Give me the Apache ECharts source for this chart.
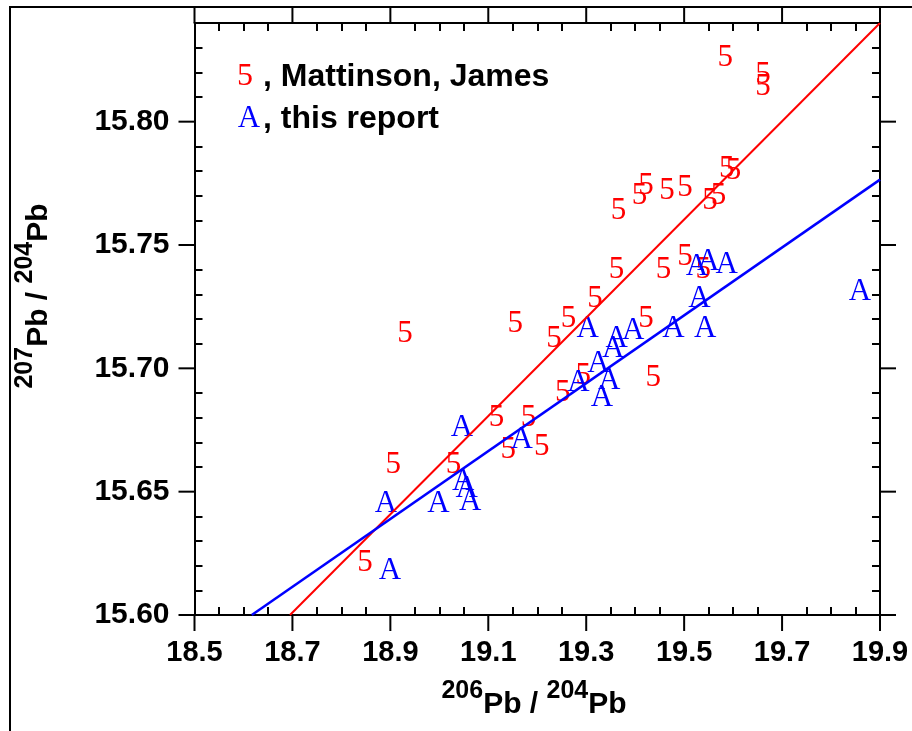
<!DOCTYPE html>
<html>
<head>
<meta charset="utf-8">
<script src="https://cdn.jsdelivr.net/npm/echarts@6/dist/echarts.min.js"></script>
<style>
  html, body { margin: 0; padding: 0; background: #fff; }
  #chart { width: 912px; height: 731px; }
</style>
</head>
<body>
<div id="chart"></div>
<script>
// 206Pb/204Pb vs 207Pb/204Pb — two sample sets and their regression lines

// Mattinson, James (plotted as "5")
const mattinsonX = [19.584, 19.661, 19.661, 19.366, 19.409, 19.422, 19.465, 19.502, 19.553, 19.570,
                    19.587, 19.601, 19.362, 19.458, 19.502, 19.539, 19.318, 19.264, 19.234, 19.422,
                    19.294, 19.252, 19.437, 18.930, 19.155, 19.117, 19.182, 19.141, 19.209, 18.906,
                    19.029, 18.848];
const mattinsonY = [15.826, 15.819, 15.814, 15.764, 15.770, 15.774, 15.772, 15.773, 15.768, 15.770,
                    15.781, 15.780, 15.740, 15.740, 15.745, 15.740, 15.728, 15.720, 15.712, 15.720,
                    15.697, 15.690, 15.696, 15.714, 15.718, 15.680, 15.680, 15.667, 15.668, 15.661,
                    15.661, 15.621];

// This report (plotted as "A")
const reportX = [19.526, 19.549, 19.587, 19.531, 19.859, 19.303, 19.362, 19.355, 19.396, 19.478,
                 19.543, 19.325, 19.284, 19.347, 19.332, 19.046, 19.168, 19.049, 19.056, 19.063,
                 18.891, 18.998, 18.899];
const reportY = [15.741, 15.743, 15.742, 15.728, 15.731, 15.716, 15.712, 15.708, 15.715, 15.716,
                 15.716, 15.702, 15.694, 15.695, 15.688, 15.676, 15.671, 15.654, 15.651, 15.646,
                 15.645, 15.645, 15.618];

// Regression lines (end points)
const mattinsonFitX = [18.695, 19.90];
const mattinsonFitY = [15.600, 15.840];
const reportFitX = [18.617, 19.90];
const reportFitY = [15.600, 15.7765];

// Axis ranges and tick labels
const xMin = 18.5, xMax = 19.9;
const yMin = 15.60, yMax = 15.84;
const xTickLabels = ['18.5', '18.7', '18.9', '19.1', '19.3', '19.5', '19.7', '19.9'];
const yTickLabels = ['15.60', '15.65', '15.70', '15.75', '15.80'];

const xMajor = xTickLabels.map(Number);
const yMajor = yTickLabels.map(Number);
const xMinor = [];
for (let i = 1; i < 28; i++) if (i % 4 !== 0) xMinor.push(+(xMin + i * 0.05).toFixed(2));
const yMinor = [];
for (let i = 1; i < 24; i++) if (i % 5 !== 0) yMinor.push(+(yMin + i * 0.01).toFixed(2));

const zip = (xs, ys) => xs.map((x, i) => [x, ys[i]]);

const SANS = '"Liberation Sans", Arial, sans-serif';
const SERIF = '"Liberation Serif", "Times New Roman", serif';
const BLACK = '#000';
const RED = '#ff0000';
const BLUE = '#0000ff';
const MAJOR_TICK = 16;

// Axis with frame line, labels and the short inward minor ticks
function frameAxis(pos, min, max, minorTicks, labelTicks, digits, fontSize, margin) {
  return {
    type: 'value', position: pos, min: min, max: max,
    axisLine: { show: true, onZero: false, lineStyle: { color: BLACK, width: 2 } },
    axisTick: { show: true, inside: true, length: 8, customValues: minorTicks,
                lineStyle: { color: BLACK, width: 2 } },
    axisLabel: labelTicks ? {
      show: true, customValues: labelTicks, margin: margin,
      formatter: v => Number(v).toFixed(digits),
      color: BLACK, fontFamily: SANS, fontWeight: 'bold', fontSize: fontSize
    } : { show: false },
    splitLine: { show: false }
  };
}

// Long outward ticks at the labelled values, placed through the axis scales
function majorTickSeries(points, dx, dy) {
  return {
    type: 'custom', xAxisIndex: 0, yAxisIndex: 0, z: 6, clip: false, silent: true,
    data: points,
    renderItem: function (params, api) {
      const p = api.coord([api.value(0), api.value(1)]);
      return {
        type: 'line',
        shape: { x1: p[0], y1: p[1], x2: p[0] + dx * MAJOR_TICK, y2: p[1] + dy * MAJOR_TICK },
        style: { stroke: BLACK, lineWidth: 2 }
      };
    }
  };
}

function glyphSeries(name, xs, ys, glyph, color) {
  return {
    name: name, type: 'custom', xAxisIndex: 0, yAxisIndex: 0, z: 3,
    data: zip(xs, ys),
    renderItem: function (params, api) {
      const p = api.coord([api.value(0), api.value(1)]);
      return {
        type: 'text', x: p[0], y: p[1],
        style: { text: glyph, fill: color, font: '31px ' + SERIF,
                 align: 'center', verticalAlign: 'middle' }
      };
    }
  };
}

function fitSeries(name, xs, ys, color, width) {
  return {
    name: name, type: 'line', xAxisIndex: 0, yAxisIndex: 0, z: 5,
    data: zip(xs, ys), showSymbol: false, symbol: 'none',
    lineStyle: { color: color, width: width }
  };
}

const nameRich = {
  s: { font: 'bold 25px ' + SANS, fill: BLACK, verticalAlign: 'top' },
  m: { font: 'bold 30px ' + SANS, fill: BLACK, verticalAlign: 'bottom', lineHeight: 41 }
};

const chart = echarts.init(document.getElementById('chart'), null, { renderer: 'canvas' });
chart.setOption({
  animation: false,
  backgroundColor: '#fff',
  grid: { left: 194.5, right: 32, top: 23, bottom: 116 },
  xAxis: [
    frameAxis('bottom', xMin, xMax, xMinor, xMajor, 1, 29, 23),
    frameAxis('top', xMin, xMax, xMinor, null)
  ],
  yAxis: [
    frameAxis('left', yMin, yMax, yMinor, yMajor, 2, 30, 25),
    frameAxis('right', yMin, yMax, yMinor, null)
  ],
  series: [
    glyphSeries('Mattinson, James', mattinsonX, mattinsonY, '5', RED),
    glyphSeries('this report', reportX, reportY, 'A', BLUE),
    fitSeries('Mattinson, James fit', mattinsonFitX, mattinsonFitY, RED, 2),
    fitSeries('this report fit', reportFitX, reportFitY, BLUE, 2.5),
    majorTickSeries(xMajor.map(v => [v, yMin]), 0, 1),
    majorTickSeries(xMajor.map(v => [v, yMax]), 0, -1),
    majorTickSeries(yMajor.map(v => [xMin, v]), -1, 0),
    majorTickSeries(yMajor.map(v => [xMax, v]), 1, 0)
  ],
  graphic: [
    // outer frame
    { type: 'line', shape: { x1: 10, y1: 7, x2: 912, y2: 7 }, style: { stroke: BLACK, lineWidth: 2 } },
    { type: 'line', shape: { x1: 10, y1: 6, x2: 10, y2: 731 }, style: { stroke: BLACK, lineWidth: 2 } },
    // legend
    { type: 'text', x: 245, y: 77, style: { text: '5', fill: RED, font: '32px ' + SERIF, align: 'center', verticalAlign: 'middle' } },
    { type: 'text', x: 263, y: 77, style: { text: ', Mattinson, James', fill: BLACK, font: 'bold 32px ' + SANS, align: 'left', verticalAlign: 'middle' } },
    { type: 'text', x: 249, y: 119, style: { text: 'A', fill: BLUE, font: '31px ' + SERIF, align: 'center', verticalAlign: 'middle' } },
    { type: 'text', x: 263, y: 119, style: { text: ', this report', fill: BLACK, font: 'bold 32px ' + SANS, align: 'left', verticalAlign: 'middle' } },
    // axis titles
    { type: 'text', x: 534, y: 699, style: { text: '{s|206}{m|Pb / }{s|204}{m|Pb}', rich: nameRich, align: 'center', verticalAlign: 'middle' } },
    { type: 'text', x: 33, y: 296, rotation: Math.PI / 2, style: { text: '{s|207}{m|Pb / }{s|204}{m|Pb}', rich: nameRich, align: 'center', verticalAlign: 'middle' } }
  ]
});
</script>
</body>
</html>
